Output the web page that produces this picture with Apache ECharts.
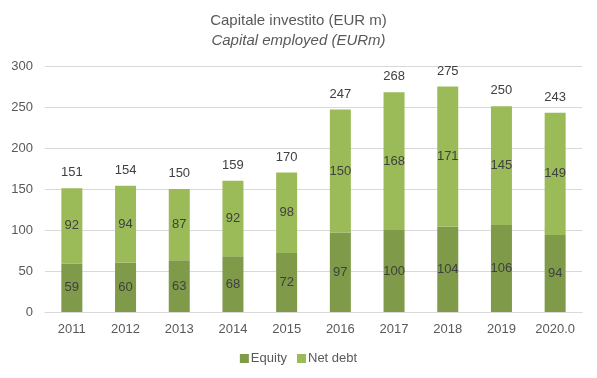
<!DOCTYPE html>
<html><head><meta charset="utf-8">
<script src="https://cdn.jsdelivr.net/npm/echarts@6/dist/echarts.min.js"></script>
<style>html,body{margin:0;padding:0;background:#fff}#c{width:597px;height:378px}</style>
</head><body><div id="c"></div>
<script>
const categories = ['2011','2012','2013','2014','2015','2016','2017','2018','2019','2020.0'];
const equity = [59,60,63,68,72,97,100,104,106,94];
const netDebt = [92,94,87,92,98,150,168,171,145,149];
const totals = [151,154,150,159,170,247,268,275,250,243];
const yTicks = [0,50,100,150,200,250,300];

const font = 'Liberation Sans';
const chart = echarts.init(document.getElementById('c'));
chart.setOption({
  animation: false,
  title: [
    {text: 'Capitale investito (EUR m)', left: 'center', top: 8,
     textStyle: {fontFamily: font, fontSize: 15, fontWeight: 'normal', color: '#595959'}},
    {text: 'Capital employed (EURm)', left: 'center', top: 28,
     textStyle: {fontFamily: font, fontSize: 15, fontWeight: 'normal', fontStyle: 'italic', color: '#595959'}}
  ],
  legend: {
    data: ['Equity','Net debt'], bottom: 8, left: 'center', itemWidth: 9, itemHeight: 9, itemGap: 10,
    icon: 'rect',
    textStyle: {fontFamily: font, fontSize: 13, color: '#595959', padding: [0,0,0,-3]}
  },
  grid: {left: 45, right: 15, top: 66, bottom: 66},
  xAxis: {
    type: 'category', data: categories,
    axisLine: {lineStyle: {color: '#d9d9d9'}}, axisTick: {show: false},
    axisLabel: {fontFamily: font, fontSize: 13, color: '#595959', margin: 11}
  },
  yAxis: {
    type: 'value', min: 0, max: 300, interval: 50,
    axisLine: {show: false}, axisTick: {show: false},
    splitLine: {lineStyle: {color: '#d9d9d9'}},
    axisLabel: {fontFamily: font, fontSize: 13, color: '#595959', margin: 12,
      formatter: v => yTicks.includes(v) ? String(v) : ''}
  },
  series: [
    {name: 'Equity', type: 'bar', stack: 's', data: equity, barWidth: 21,
     itemStyle: {color: '#7f9a48'},
     label: {show: true, position: 'inside', fontFamily: font, fontSize: 13, color: '#404040'}},
    {name: 'Net debt', type: 'bar', stack: 's', data: netDebt, barWidth: 21,
     itemStyle: {color: '#9bbb59'},
     label: {show: true, position: 'inside', fontFamily: font, fontSize: 13, color: '#404040'}},
    {name: 'Total', type: 'bar', stack: 's', data: totals.map(() => 0), barWidth: 21,
     itemStyle: {color: 'transparent'},
     label: {show: true, position: 'top', distance: 9, fontFamily: font, fontSize: 13, color: '#404040',
       formatter: p => String(totals[p.dataIndex])}}
  ]
});
</script></body></html>
